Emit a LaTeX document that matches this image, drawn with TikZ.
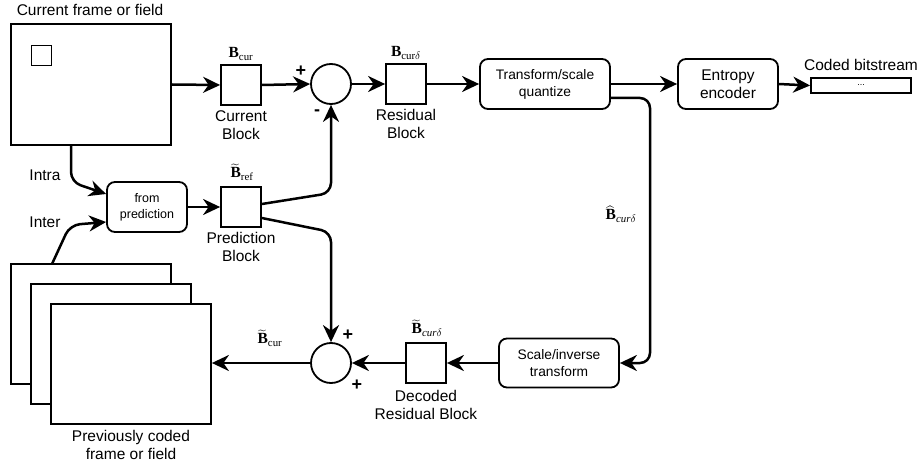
\RequirePackage{fix-cm}
\documentclass[tikz,border=0pt]{standalone}
\usepackage{amsmath}
\usepackage{fontspec}
\setmainfont{Liberation Sans}
\setmathrm{Liberation Serif}
\usetikzlibrary{arrows.meta,calc}
\tikzset{
  frame/.style={draw, line width=1.8pt, fill=white, minimum width=160pt, minimum height=121pt, inner sep=0pt},
  blk/.style={draw, line width=1.8pt, minimum width=40pt, minimum height=40pt, inner sep=0pt},
  proc/.style={draw, line width=1.8pt, rounded corners=8pt, inner sep=0pt, align=center},
  sumc/.style={draw, circle, line width=1.8pt, minimum size=40pt, inner sep=0pt},
  txt/.style={font=\fontsize{15.5}{18}\selectfont, align=center, inner sep=0pt},
  stxt/.style={font=\fontsize{13.8}{17}\selectfont, align=center},
  mlbl/.style={font=\fontsize{15.5}{16}\selectfont, inner sep=0pt},
  sgn/.style={font=\fontsize{18}{18}\selectfont\bfseries, inner sep=0pt},
  conn/.style={line width=2.5pt, -{Stealth[length=17pt,width=16pt,inset=5.5pt]}},
  plain/.style={line width=2.5pt}
}
\begin{document}
\begin{tikzpicture}[x=1pt,y=-1pt]
\useasboundingbox (0,0) rectangle (921,468);
% current frame
\node[frame] (cf) at (91,84.5) {};
\node[draw, line width=0.9pt, minimum size=20pt, inner sep=0pt] (sq) at (41,55) {};
\node[txt] (cft) at (90,10) {Current frame or field};
% current block
\node[blk] (cb) at (241,85) {};
\node[mlbl] (cbl) at (241,54) {$\mathbf{B}_{\mathrm{cur}}$};
\node[txt] (cbt) at (241,125) {Current\\Block};
% sum 1
\node[sumc] (s1) at (331,84) {};
\node[sgn] (p1) at (301,71) {+};
\node[sgn] (m1) at (317,113) {-};
% residual block
\node[blk] (rb) at (406,84) {};
\node[mlbl] (rbl) at (406,53) {$\mathbf{B}_{\mathrm{cur}\delta}$};
\node[txt] (rbt) at (406,124) {Residual\\Block};
% transform
\node[proc, minimum width=130pt, minimum height=50pt, stxt] (tq) at (545,84) {Transform/scale\\quantize};
\node[proc, minimum width=100pt, minimum height=50pt, txt] (ee) at (728,84) {Entropy\\encoder};
\node[draw, line width=1.8pt, minimum width=100pt, minimum height=15pt, inner sep=0pt, font=\fontsize{9}{9}\selectfont] (bs) at (861,85.5) {...};
\node[txt] (bst) at (861,65) {Coded bitstream};
% scale inverse
\node[proc, minimum width=120pt, minimum height=49pt, stxt] (si) at (559,363) {Scale/inverse\\transform};
\node[mlbl] (hat) at (621,214) {$\widehat{\mathbf{B}}_{\mathit{cur}\delta}$};
% decoded residual
\node[blk] (db) at (426,363) {};
\node[mlbl] (dbl) at (427,328) {$\widetilde{\mathbf{B}}_{\mathit{cur}\delta}$};
\node[txt] (dbt) at (426,405) {Decoded\\Residual Block};
% sum 2
\node[sumc] (s2) at (331,363) {};
\node[sgn] (p2) at (348,335) {+};
\node[sgn] (p3) at (357,385) {+};
% previous frames
\node[frame, minimum height=120pt] (pf1) at (91,324) {};
\node[frame, minimum height=120pt] (pf2) at (111,344) {};
\node[frame, minimum height=120pt] (pf3) at (131,364) {};
\node[txt] (pft) at (131,445) {Previously coded\\frame or field};
\node[mlbl] (bcl) at (270,338) {$\widetilde{\mathbf{B}}_{\mathrm{cur}}$};
% from prediction
\node[proc, minimum width=80pt, minimum height=50pt, font=\fontsize{12.5}{16}\selectfont] (fp) at (147,207) {from\\prediction};
\node[blk] (pb) at (241,207) {};
\node[mlbl] (pbl) at (242,172) {$\widetilde{\mathbf{B}}_{\mathrm{ref}}$};
\node[txt] (pbt) at (241,247) {Prediction\\Block};
\node[txt] (intra) at (45,175) {Intra};
\node[txt] (inter) at (45,222) {Inter};
% connectors
\draw[conn] (cf.east) -- (cb.west);
\draw[conn] (cb.east) -- (s1.west);
\draw[conn] (s1.east) -- (rb.west);
\draw[conn] (rb.east) -- (tq.west);
\draw[conn] (tq.east) -- (ee.west);
\draw[conn] (ee.east) -- (bs.west);
\coordinate (tr) at (650,98);
\draw[conn, rounded corners=10pt] (tq.east |- tr) -- (tr) |- (si.east);
\draw[conn] (si.west) -- (db.east);
\draw[conn] (db.west) -- (s2.east);
\draw[conn] (s2.west) -- (pf3.east |- s2.west);
\draw[conn] (fp.east) -- (pb.west);
\coordinate (ia) at (71,182);
\draw[conn, rounded corners=10pt] (cf.south -| ia) -- (ia) -- ([yshift=13pt]fp.west);
\coordinate (ie) at (52,264);
\coordinate (ib) at (70,225);
\draw[conn, rounded corners=10pt] (ie) -- (ib) -- ([yshift=-15pt]fp.west);
\coordinate (pu) at (331,193);
\draw[conn, rounded corners=10pt] ([yshift=3pt]pb.east) -- (pu) -- (s1.south);
\coordinate (pd) at (331,232);
\draw[conn, rounded corners=10pt] ([yshift=-11pt]pb.east) -- (pd) -- (s2.north);
\end{tikzpicture}
\end{document}
